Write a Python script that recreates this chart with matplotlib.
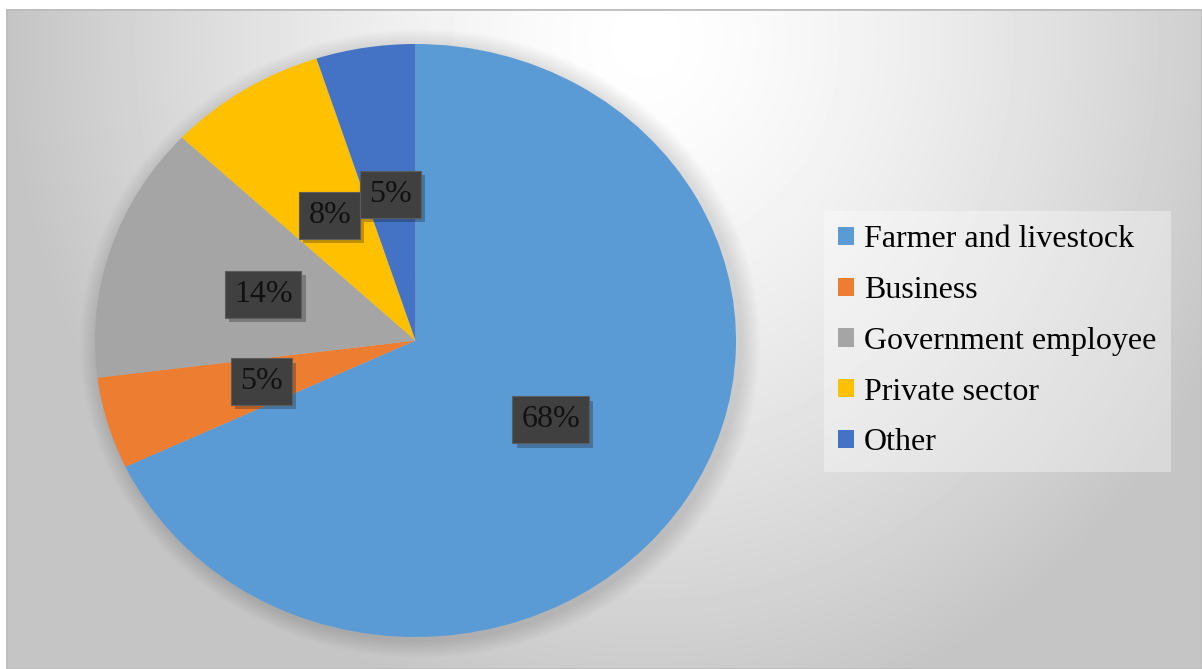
import numpy as np
import matplotlib.pyplot as plt
import matplotlib.patheffects as pe
from matplotlib.patches import Ellipse, Rectangle

categories = ['Farmer and livestock', 'Business', 'Government employee', 'Private sector', 'Other']
shares = [68, 5, 14, 8, 5]
colors = ['#5B9BD5', '#ED7D31', '#A5A5A5', '#FFC000', '#4472C4']

W, H = 1202, 669
fig = plt.figure(figsize=(W / 100, H / 100), dpi=100)
fig.patch.set_facecolor('white')

# background radial gradient
bg = fig.add_axes([6 / W, 0, 1 - 6 / W, 1 - 9 / H])
yy, xx = np.mgrid[0:660, 0:1196]
r = np.sqrt(((xx - 640) / 640.0) ** 2 + ((yy - 30) / 700.0) ** 2)
grad = 1.0 - 0.23 * np.clip(r, 0, 1) ** 1.4
bg.imshow(grad, cmap='gray', vmin=0, vmax=1, aspect='auto', extent=(0, 1196, 660, 0))
bg.set_axis_off()
bg.add_patch(Rectangle((0, 0), 1196, 660, fill=False, edgecolor='#bdbdbd', lw=2))

# pie axes, stretched like the original
ext = 1.1
cx, cy, rx, ry = 415.5, 328.5, 320.5, 296.5
ax = fig.add_axes([(cx - rx * ext) / W, (cy - ry * ext) / H, 2 * rx * ext / W, 2 * ry * ext / H])
ax.patch.set_alpha(0)

# soft shadow around the pie
for i in range(10):
    s = 1.0 + 0.006 * (i + 1)
    ax.add_patch(Ellipse((0.015, -0.01), 2 * s, 2 * s, facecolor='black', alpha=0.012, lw=0, zorder=0))

wedges, texts, autotexts = ax.pie(shares, colors=colors, startangle=90, counterclock=False,
                                  autopct='%1.0f%%', pctdistance=0.5,
                                  wedgeprops=dict(linewidth=0, zorder=2),
                                  textprops=dict(family='Liberation Serif', fontsize=23, color='#111111'))
for t in autotexts:
    t.set_zorder(5)
    t.set_bbox(dict(boxstyle='square,pad=0.28', facecolor='#404040', edgecolor='#5c5c5c', lw=0.8))
    t.get_bbox_patch().set_path_effects([
        pe.SimplePatchShadow(offset=(3, -3), shadow_rgbFace='black', alpha=0.25),
        pe.Normal()])
ax.set_aspect('auto')
ax.set_xlim(-ext, ext)
ax.set_ylim(-ext, ext)

leg = fig.legend(wedges, categories, loc='upper left', bbox_to_anchor=(824 / W, 1 - 211 / H),
                 borderaxespad=0, frameon=True, fancybox=False,
                 prop=dict(family='Liberation Serif', size=23),
                 handlelength=0.5, handleheight=0.5, handletextpad=0.3,
                 labelspacing=0.68, borderpad=0.45)
frame = leg.get_frame()
frame.set_facecolor('white')
frame.set_alpha(0.35)
frame.set_edgecolor('none')

fig.savefig('out.png', dpi=100)
